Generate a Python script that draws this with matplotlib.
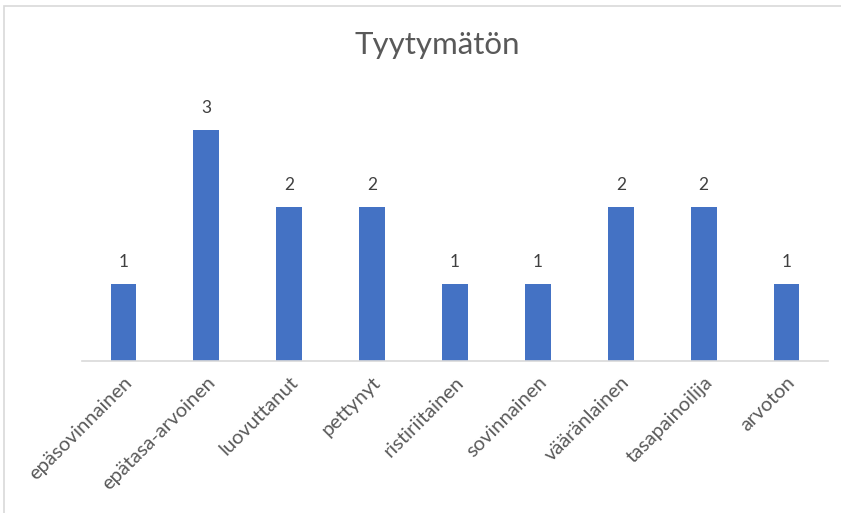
import matplotlib.pyplot as plt
from matplotlib.patches import Rectangle

# data
categories = ['epäsovinnainen', 'epätasa-arvoinen', 'luovuttanut', 'pettynyt',
              'ristiriitainen', 'sovinnainen', 'vääränlainen', 'tasapainoilija', 'arvoton']
values = [1, 3, 2, 2, 1, 1, 2, 2, 1]

bar_color = '#4472c4'
text_color = '#595959'
plt.rcParams['font.family'] = ['Lato', 'DejaVu Sans']

W, H = 841, 513
fig = plt.figure(figsize=(W / 100, H / 100), dpi=100)

# light chart frame (only left and top edges are visible in the crop)
fig.patches.append(Rectangle((4 / W, -0.1), 1.2, (H - 6) / H + 0.1,
                             transform=fig.transFigure, fill=False,
                             edgecolor='#d9d9d9', linewidth=1.2))

ax = fig.add_axes([82 / W, 152 / H, (828 - 82) / W, 269.5 / H])
x = range(len(categories))
bars = ax.bar(x, values, width=0.31, color=bar_color)
ax.set_xlim(-0.5, len(categories) - 0.5)
ax.set_ylim(0, 3.5)

for b, v in zip(bars, values):
    ax.annotate(str(v), (b.get_x() + b.get_width() / 2, v), xytext=(0, 10),
                textcoords='offset points', ha='center', va='bottom',
                fontsize=12.5, color='#404040')

ax.set_xticks(list(x))
ax.set_xticklabels(categories, rotation=45, ha='right', rotation_mode='anchor',
                   fontsize=14.5, color=text_color)
ax.tick_params(axis='x', length=0, pad=9)
ax.set_yticks([])
for s in ['top', 'right', 'left']:
    ax.spines[s].set_visible(False)
ax.spines['bottom'].set_color('#d9d9d9')
ax.spines['bottom'].set_linewidth(1.2)

fig.text(437 / W, 1 - 45 / H, 'Tyytymätön', ha='center', va='center',
         fontsize=22.5, color=text_color)

fig.savefig('out.png', dpi=100)
